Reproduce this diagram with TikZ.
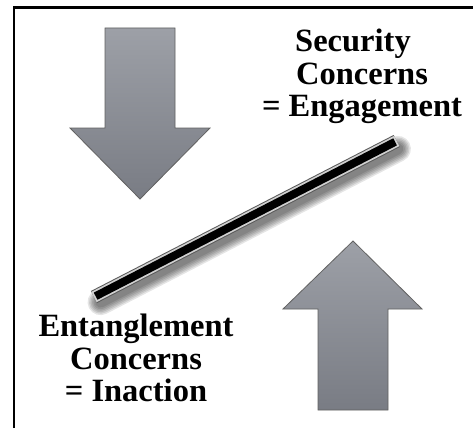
\documentclass[tikz,border=0pt]{standalone}
\usepackage{fontspec}
\setmainfont{Liberation Serif}
\usetikzlibrary{calc}
\begin{document}
\begin{tikzpicture}[x=1pt,y=-1pt,
  bigarrow/.style={draw=black!62, line width=0.8pt, line join=miter,
    top color=arrowtop, bottom color=arrowbot},
  caption/.style={font=\bfseries\fontsize{32.5}{32.8}\selectfont, align=center,
    inner sep=0pt, anchor=north, text=black},
  frameline/.style={line width=2.6pt, black}]
\definecolor{arrowtop}{HTML}{9DA0A7}
\definecolor{arrowbot}{HTML}{797C84}
\useasboundingbox (0,0) rectangle (473,428);
\fill[white] (0,0) rectangle (473,428);

% open frame: top and left sides only
\draw[frameline] (14,428) -- (14,7.8) -- (473,7.8);

% downward arrow
\path[bigarrow] (105,28) -- (175,28) -- (175,128) -- (210,128) -- (140,199)
  -- (70,128) -- (105,128) -- cycle;

% upward arrow
\path[bigarrow] (353,241) -- (422,309) -- (388,309) -- (388,410) -- (318,410)
  -- (318,309) -- (283,309) -- cycle;

% the seesaw bar with its soft shadow
\coordinate (barA) at (94,297);
\coordinate (barB) at (396.7,141);
\foreach \w in {26,23,20,17,14,11}
  \draw[black, opacity=0.1, line width=\w pt, line cap=round,
        shorten <=4pt, shorten >=2pt]
    ([shift={(3,7)}]barA) -- ([shift={(3,7)}]barB);
\draw[line width=13.5pt, black!65] (barA) -- (barB);
\draw[line width=11.5pt, black!18] (barA) -- (barB);
\draw[line width=8pt, black] ($(barA)!1.8pt!(barB)$) -- ($(barB)!1.8pt!(barA)$);

% captions
\node[caption] (sec) at (362,28.5) {Security\hspace*{18pt}\\Concerns\\= Engagement};
\node[caption] (ent) at (136,313.5) {Entanglement\\Concerns\\= Inaction};
\end{tikzpicture}
\end{document}
